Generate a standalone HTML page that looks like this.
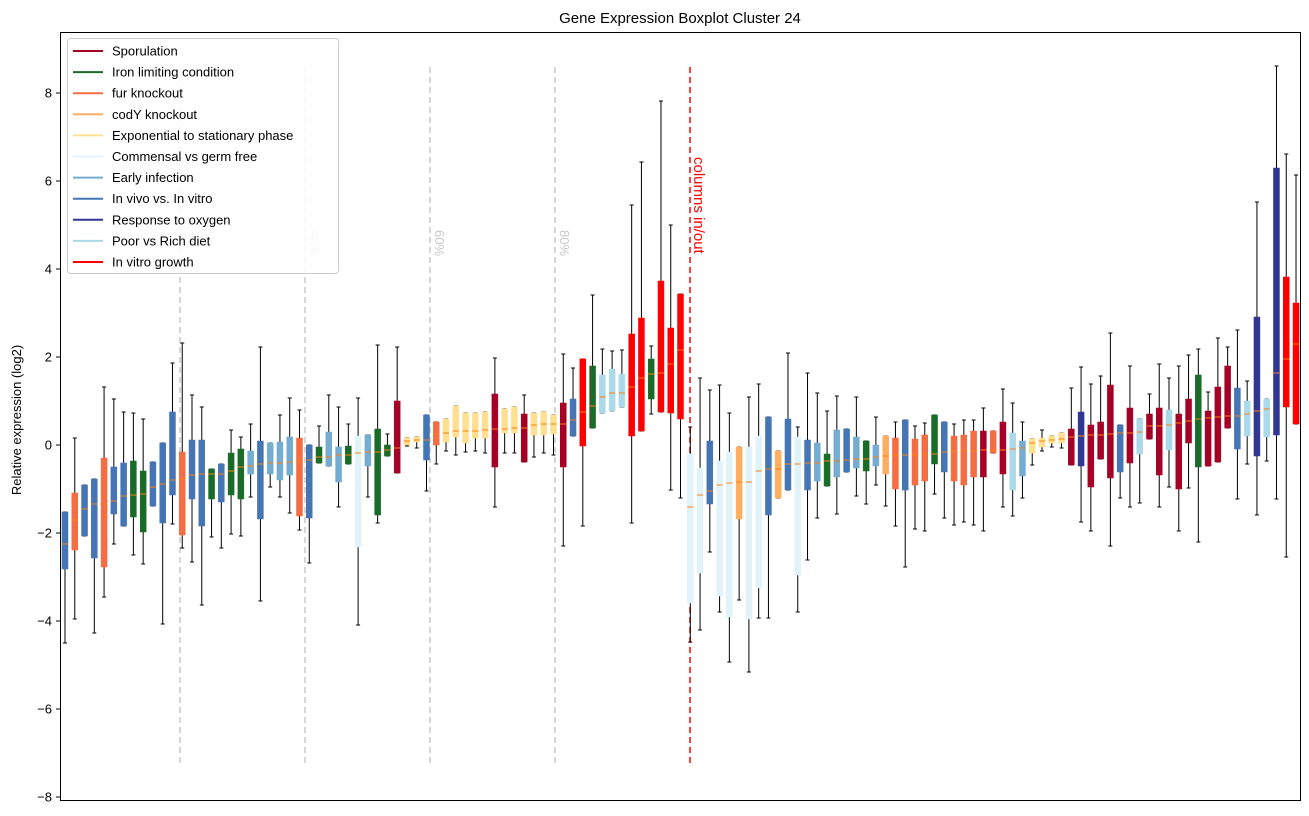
<!DOCTYPE html>
<html><head><meta charset="utf-8"><style>
html,body{margin:0;padding:0;background:#fff;}
svg{display:block;font-family:"Liberation Sans","DejaVu Sans",sans-serif;}
</style></head><body>
<svg id="s" width="1309" height="816" xmlns="http://www.w3.org/2000/svg">
<rect width="1309" height="816" fill="#fff"/>
<text x="680" y="23" font-size="15" text-anchor="middle">Gene Expression Boxplot Cluster 24</text>
<text transform="translate(21,420) rotate(-90)" font-size="13" text-anchor="middle">Relative expression (log2)</text>
<g id="grid"></g>
<g id="boxes"></g>
<rect x="60.5" y="32.5" width="1240" height="768" fill="none" stroke="#000" stroke-width="1"/>
<g id="ticks" font-size="13" text-anchor="end"></g>
<g id="legend"></g>
</svg>
<script>
var NS="http://www.w3.org/2000/svg";
function el(p,t,a,txt){var e=document.createElementNS(NS,t);for(var k in a)e.setAttribute(k,a[k]);if(txt!=null)e.textContent=txt;p.appendChild(e);return e;}
var C={S:"#a50026",I:"#1a6b2a",F:"#f46d43",C:"#fdae61",E:"#fee090",M:"#e0f3f8",EI:"#74add1",V:"#4575b4",O:"#313695",P:"#abd9e9",R:"#ff0000"};
var D=[
["V",512,512,544,569,643],["F",438,493,520,550,619],["V",485,485,509,536,536],["V",479,479,504,558,633],
["F",387,458,504,567,597],["V",399,467,501,514,544],["V",412,463,496,526,526],["I",413,461,495,517,555],
["I",419,471,494,532,564],["V",462,462,487,506,506],["V",443,443,484,523,624],["V",363,412,480,495,524],
["F",343,452,479,535,548],["V",395,440,475,499,562],["V",407,440,474,526,605],["I",469,469,474,499,537],
["V",464,464,474,502,548],["I",430,453,471,495,534],["I",437,449,467,499,536],["EI",424,451,466,474,497],
["V",347,441,464,519,601],["EI",443,443,463,474,487],["EI",415,442,463,480,497],["EI",398,437,462,475,513],
["F",410,438,461,516,530],["V",445,445,460,518,563],["I",426,447,457,463,463],["EI",395,432,457,466,466],
["EI",407,447,455,482,507],["I",424,446,455,464,464],["M",398,436,453,547,625],["EI",435,435,452,466,497],
["I",345,429,452,515,523],["I",434,445,450,456,456],["S",347,401,448,473,473],["E",438,438,441,445,446],
["E",437,437,440,442,448],["V",415,415,440,460,491],["F",422,422,434,445,464],["E",419,419,433,442,451],
["E",406,406,431,437,455],["E",413,413,431,443,452],["E",413,413,431,438,451],["E",412,412,430,438,453],
["S",358,394,429,467,507],["E",409,409,429,433,453],["E",407,407,428,433,453],["S",395,414,428,462,462],
["E",413,413,425,435,457],["E",412,412,424,435,453],["E",415,415,424,434,455],["S",354,403,424,467,546],
["V",368,399,420,436,436],["R",359,359,412,446,526],["I",295,366,406,428,428],["P",349,375,397,413,413],
["P",351,369,393,411,411],["P",350,374,393,407,407],["R",205,334,387,436,523],["R",162,318,378,431,431],
["I",346,359,374,399,414],["R",101,281,373,412,412],["R",225,328,364,413,490],["R",294,294,350,419,498],
["M",427,454,507,603,642],["M",378,468,495,573,630],["V",390,441,491,504,552],["M",385,461,485,596,612],
["M",413,452,483,617,662],["C",447,447,482,519,600],["M",397,447,482,619,672],["M",384,436,471,588,618],
["V",417,417,469,515,618],["C",451,451,469,498,498],["V",353,419,464,490,490],["M",427,437,464,575,612],
["V",373,440,463,490,560],["EI",393,443,463,481,518],["I",411,454,461,486,486],["EI",396,430,461,477,514],
["V",429,429,460,472,472],["EI",397,437,459,468,496],["I",441,441,459,471,504],["EI",417,445,457,466,485],
["C",436,436,456,474,506],["F",422,438,455,489,526],["V",420,420,455,490,567],["F",426,439,455,485,529],
["F",423,435,454,481,531],["I",415,415,454,464,494],["V",422,422,452,472,518],["F",424,436,451,481,525],
["F",420,435,451,485,522],["F",420,431,451,477,525],["S",408,431,450,477,531],["F",431,431,450,453,453],
["S",389,422,450,474,507],["P",403,433,449,490,516],["EI",422,441,448,476,498],["E",439,439,443,453,465],
["E",430,438,441,447,451],["E",436,436,440,443,447],["E",433,433,439,443,448],["S",388,429,437,465,465],
["O",367,412,436,466,522],["S",384,425,435,487,531],["S",376,422,435,459,459],["S",333,385,434,478,546],
["V",425,425,433,472,498],["S",366,408,433,463,507],["P",419,419,432,454,503],["S",394,414,426,439,439],
["S",364,408,426,475,507],["P",378,410,425,450,487],["S",366,414,423,489,531],["S",355,399,421,443,488],
["I",349,375,419,467,542],["S",392,411,418,466,466],["S",338,387,417,462,462],["S",347,366,416,428,428],
["V",330,388,416,449,499],["P",381,401,414,436,464],["O",202,317,411,456,515],["P",399,399,409,437,461],
["O",66,168,373,435,499],["R",154,277,359,407,557],["R",175,303,344,424,424]
];
var B=document.getElementById("boxes");
D.forEach(function(d,i){
 var x=65+i*9.77, c=C[d[0]];
 if(d[1]<d[2]){el(B,"line",{x1:x,x2:x,y1:d[1],y2:d[2],stroke:"#000"});}
 if(d[5]>d[4]){el(B,"line",{x1:x,x2:x,y1:d[4],y2:d[5],stroke:"#000"});}
 el(B,"line",{x1:x-2,x2:x+2,y1:d[1],y2:d[1],stroke:"#000"});
 el(B,"line",{x1:x-2,x2:x+2,y1:d[5],y2:d[5],stroke:"#000"});
 el(B,"rect",{x:x-3,y:d[2],width:6,height:Math.max(1,d[4]-d[2]),fill:c,stroke:c,"stroke-width":0.5});
 el(B,"line",{x1:x-3,x2:x+3,y1:d[3],y2:d[3],stroke:"#ff7f0e","stroke-width":1});
});
var G=document.getElementById("grid");
[180,305,430,555].forEach(function(x){el(G,"line",{x1:x,x2:x,y1:67,y2:765,stroke:"#c8c8c8","stroke-width":1.5,"stroke-dasharray":"6,4"});});
[["40%",305],["60%",430],["80%",555]].forEach(function(a){
 el(G,"text",{transform:"translate("+(a[1]+5)+",230) rotate(90)","font-size":13,fill:"#c8c8c8"},a[0]);});
el(G,"line",{x1:690,x2:690,y1:67,y2:765,stroke:"#ff0000","stroke-width":1.5,"stroke-dasharray":"6,4"});
el(G,"text",{transform:"translate(694,157) rotate(90)","font-size":15,fill:"#ff0000"},"columns in/out");
var T=document.getElementById("ticks");
for(var v=8;v>=-8;v-=2){var y=445-44*v;
 el(T,"line",{x1:56,x2:60,y1:y,y2:y,stroke:"#000"});
 el(T,"text",{x:52,y:y+4.5},v<0?"\u2212"+(-v):""+v);}
var L=document.getElementById("legend");
el(L,"rect",{x:67.5,y:38.5,width:271,height:235,rx:3,fill:"#fff","fill-opacity":0.85,stroke:"#ccc"});
[["Sporulation","S"],["Iron limiting condition","I"],["fur knockout","F"],["codY knockout","C"],["Exponential to stationary phase","E"],["Commensal vs germ free","M"],["Early infection","EI"],["In vivo vs. In vitro","V"],["Response to oxygen","O"],["Poor vs Rich diet","P"],["In vitro growth","R"]].forEach(function(a,i){
 var y=51+i*21.1;
 el(L,"line",{x1:73,x2:103,y1:y,y2:y,stroke:C[a[1]],"stroke-width":2});
 el(L,"text",{x:112,y:y+4.5,"font-size":13},a[0]);});
</script>
</body></html>
